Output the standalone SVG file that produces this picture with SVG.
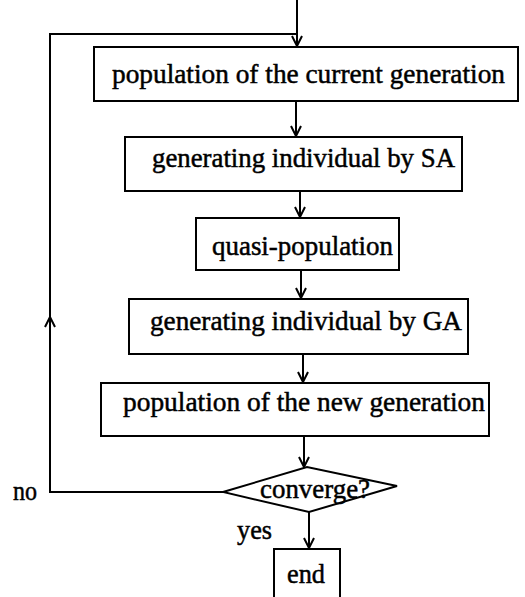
<svg xmlns="http://www.w3.org/2000/svg" width="525" height="597" viewBox="0 0 525 597">
<style>
.b{fill:#fff;stroke:#000;stroke-width:2}
.t{font-family:"Liberation Serif","Times New Roman",serif;font-size:28px;fill:#000;stroke:#000;stroke-width:0.5}
.c{fill:none;stroke:#000;stroke-width:2}
</style>
<defs>
<marker id="a" viewBox="0 0 12 12" refX="11" refY="6" markerWidth="12" markerHeight="12" markerUnits="userSpaceOnUse" orient="auto">
<path d="M1,1 L11,6 L1,11" fill="none" stroke="#000" stroke-width="2"/>
</marker>
</defs>
<g id="connectors">
<path class="c" d="M297,0 V46" marker-end="url(#a)"/>
<path class="c" d="M223,492 H50 V34 H296"/>
<path class="c" d="M50,340 V317" marker-end="url(#a)"/>
<path class="c" d="M296,101 V136" marker-end="url(#a)"/>
<path class="c" d="M300,191 V217" marker-end="url(#a)"/>
<path class="c" d="M301,270 V298" marker-end="url(#a)"/>
<path class="c" d="M303,354 V382" marker-end="url(#a)"/>
<path class="c" d="M304,436 V467" marker-end="url(#a)"/>
<path class="c" d="M309,512 V548" marker-end="url(#a)"/>
</g>
<g id="n1"><rect class="b" x="94" y="47" width="424" height="54"/><text class="t" x="112" y="83" textLength="393" lengthAdjust="spacingAndGlyphs">population of the current generation</text></g>
<g id="n2"><rect class="b" x="125" y="137" width="337" height="54"/><text class="t" x="152" y="167" textLength="303" lengthAdjust="spacingAndGlyphs">generating individual by SA</text></g>
<g id="n3"><rect class="b" x="196" y="218" width="203" height="52"/><text class="t" x="212" y="255" textLength="181" lengthAdjust="spacingAndGlyphs">quasi-population</text></g>
<g id="n4"><rect class="b" x="129" y="299" width="339" height="55"/><text class="t" x="150" y="330" textLength="312" lengthAdjust="spacingAndGlyphs">generating individual by GA</text></g>
<g id="n5"><rect class="b" x="101" y="383" width="388" height="53"/><text class="t" x="123" y="411" textLength="362" lengthAdjust="spacingAndGlyphs">population of the new generation</text></g>
<g id="n6"><path class="b" d="M223,492 L307,467 L397,486 L309,512 Z"/><text class="t" x="260" y="498" textLength="110" lengthAdjust="spacingAndGlyphs">converge?</text></g>
<g id="n7"><rect class="b" x="274" y="549" width="66" height="60"/><text class="t" x="287" y="583" textLength="38" lengthAdjust="spacingAndGlyphs">end</text></g>
<text class="t" x="13" y="500" textLength="24" lengthAdjust="spacingAndGlyphs">no</text>
<text class="t" x="237" y="539" textLength="35" lengthAdjust="spacingAndGlyphs">yes</text>
</svg>
